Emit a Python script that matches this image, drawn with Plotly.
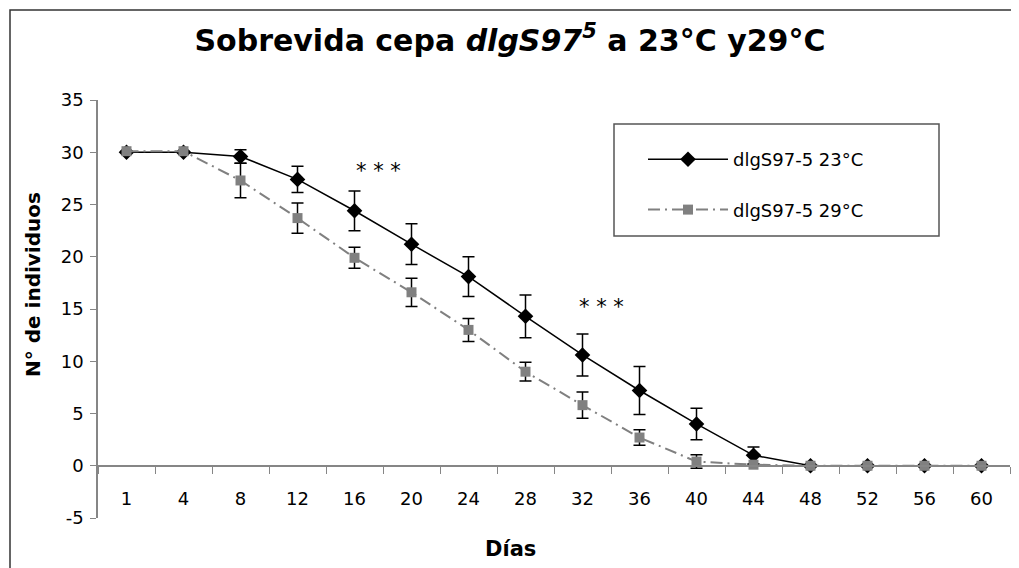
import plotly.graph_objects as go

days = ["1", "4", "8", "12", "16", "20", "24", "28", "32", "36", "40", "44", "48", "52", "56", "60"]
surv_23 = [30.0, 30.0, 29.6, 27.4, 24.4, 21.2, 18.1, 14.3, 10.6, 7.2, 4.0, 1.0, 0, 0, 0, 0]
err_23 = [0, 0, 0.65, 1.25, 1.9, 1.95, 1.9, 2.05, 2.0, 2.3, 1.5, 0.8, 0, 0, 0, 0]
surv_29 = [30.1, 30.1, 27.3, 23.7, 19.9, 16.6, 13.0, 9.0, 5.8, 2.7, 0.4, 0.1, 0, 0, 0, 0]
err_29 = [0, 0, 1.65, 1.45, 1.0, 1.35, 1.1, 0.9, 1.25, 0.75, 0.65, 0, 0, 0, 0, 0]
y_ticks = [-5, 0, 5, 10, 15, 20, 25, 30, 35]
y_tick_text = ["-5", "0", "5", "10", "15", "20", "25", "30", "35"]
star_pos = [(4.42, 28.4), (8.33, 15.4)]

FONT = "Verdana, DejaVu Sans, sans-serif"
OFF = 8  # page body margin
W, H = 1011, 560
ML, MR, MT, MB = 90, 9, 92, 50
PW, PH = W - ML - MR, H - MT - MB


def px(x):
    return (x - OFF - ML) / PW


def py(y):
    return (H - MB - (y - OFF)) / PH


fig = go.Figure()
fig.add_trace(go.Scatter(
    x=days, y=surv_23, name="dlgS97-5 23°C", mode="lines+markers",
    legendgroup="a",
    line=dict(color="black", width=1.5),
    marker=dict(symbol="diamond", size=12, color="black"),
    error_y=dict(type="data", array=err_23, color="black", thickness=1.5, width=6),
))
fig.add_trace(go.Scatter(
    x=days, y=surv_29, name="dlgS97-5 29°C", mode="lines+markers",
    legendgroup="b",
    line=dict(color="#808080", width=2, dash="12px,5px,2px,5px"),
    marker=dict(symbol="square", size=10, color="#808080"),
    error_y=dict(type="data", array=err_29, color="black", thickness=1.5, width=6),
))

annotations = [
    dict(text="<b>Días</b>", x=px(510), y=py(549), xref="paper", yref="paper",
         showarrow=False, font=dict(family=FONT, size=21, color="black"),
         xanchor="center", yanchor="middle"),
    dict(text="<b>N° de individuos</b>", x=px(33), y=py(285), xref="paper", yref="paper",
         showarrow=False, textangle=-90, font=dict(family=FONT, size=20, color="black"),
         xanchor="center", yanchor="middle"),
]
for sx, sy in star_pos:
    annotations.append(dict(text="* * *", x=sx, y=sy, xref="x", yref="y", showarrow=False,
                            font=dict(family=FONT, size=21, color="black"),
                            xanchor="center", yanchor="middle", yshift=-2))

shapes = [
    dict(type="rect", xref="paper", yref="paper", x0=px(10), y0=py(10), x1=1.3, y1=-0.5,
         line=dict(color="#333333", width=1.5), layer="below"),
    dict(type="rect", xref="paper", yref="paper", x0=px(614), y0=py(124), x1=px(939), y1=py(236),
         line=dict(color="#555555", width=1.5), fillcolor="white", layer="below"),
]

fig.update_layout(
    width=W, height=H,
    margin=dict(l=ML, r=MR, t=MT, b=MB),
    paper_bgcolor="white", plot_bgcolor="white",
    font=dict(family=FONT, size=18, color="black"),
    title=dict(text="<b>Sobrevida cepa <i>dlgS97</i><sup><i>5</i></sup> a 23°C y29°C</b>",
               x=(510 - OFF) / W, y=1 - (40 - OFF) / H, xanchor="center", yanchor="middle",
               font=dict(family=FONT, size=30, color="black")),
    xaxis=dict(type="category", range=[-0.5, 15.5], anchor="free", position=0.125,
               showline=True, linecolor="#868686", linewidth=1.5,
               ticks="outside", ticklen=7, tickcolor="#868686", tickson="boundaries",
               ticklabelstandoff=17, showgrid=False, zeroline=False,
               tickfont=dict(family=FONT, size=18, color="black")),
    yaxis=dict(range=[-5, 35], tickvals=y_ticks, ticktext=y_tick_text,
               showline=True, linecolor="#868686", linewidth=1.5,
               ticks="outside", ticklen=6, tickcolor="#868686", showgrid=False,
               zeroline=False, ticklabelstandoff=3,
               tickfont=dict(family=FONT, size=18, color="black")),
    legend=dict(x=px(643), y=py(141), xanchor="left", yanchor="top",
                bgcolor="rgba(0,0,0,0)", borderwidth=0, tracegroupgap=24,
                itemwidth=80, font=dict(family=FONT, size=18, color="black")),
    showlegend=True,
    annotations=annotations,
    shapes=shapes,
)

fig.write_html("out.html")
